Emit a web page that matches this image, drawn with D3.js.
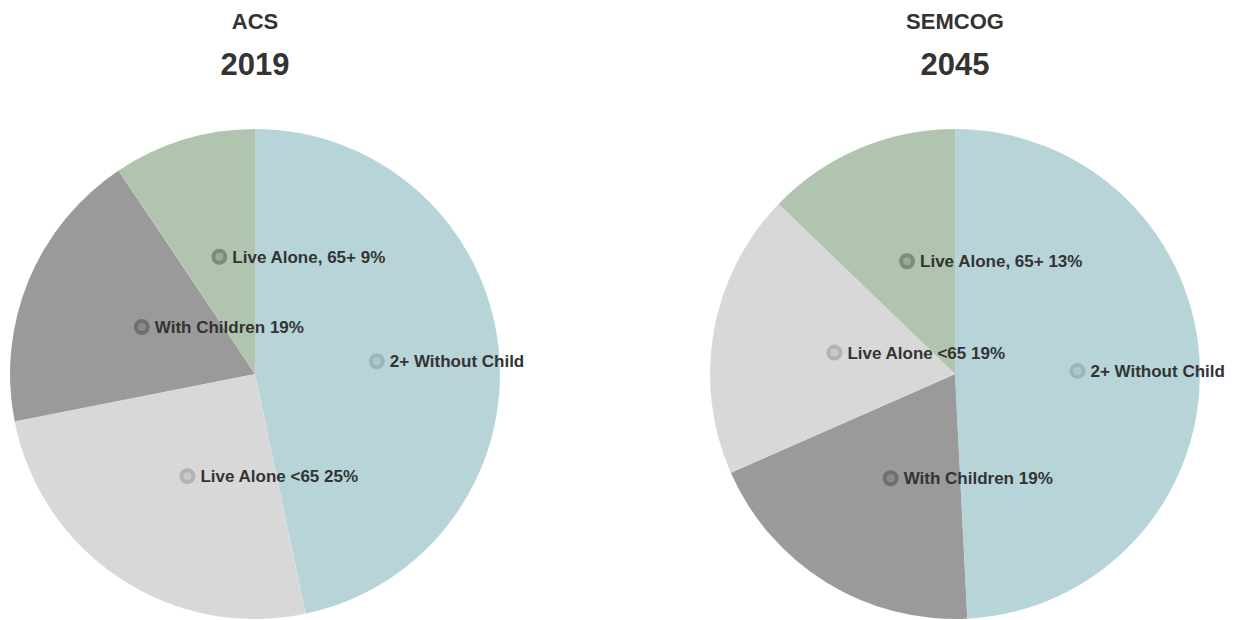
<!DOCTYPE html>
<html>
<head>
<meta charset="utf-8">
<script src="https://cdn.jsdelivr.net/npm/d3@7"></script>
<style>
  body { margin: 0; background: #fff; }
  svg text { font-family: "Liberation Sans", Arial, sans-serif; }
</style>
</head>
<body>
<div id="chart"></div>
<script>
// data
var titles = ["ACS", "SEMCOG"];
var years = ["2019", "2045"];
var acsNames = ["2+ Without Child", "Live Alone <65", "With Children", "Live Alone, 65+"];
var acsValues = [46.7, 25.2, 18.7, 9.4];
var acsLabels = ["2+ Without Child", "Live Alone <65 25%", "With Children 19%", "Live Alone, 65+ 9%"];
var semNames = ["2+ Without Child", "With Children", "Live Alone <65", "Live Alone, 65+"];
var semValues = [49.2, 19.2, 18.8, 12.8];
var semLabels = ["2+ Without Child", "With Children 19%", "Live Alone <65 19%", "Live Alone, 65+ 13%"];

var fill = {
    "2+ Without Child": "#b7d4d9",
    "Live Alone <65": "#d8d8d8",
    "With Children": "#9a9a9a",
    "Live Alone, 65+": "#b1c4b0"
};
var ring = {
    "2+ Without Child": "#9bb6ba",
    "Live Alone <65": "#b3b3b3",
    "With Children": "#6f6f6f",
    "Live Alone, 65+": "#7c8c7b"
};
var dot = {
    "2+ Without Child": "#adc7cb",
    "Live Alone <65": "#c9c9c9",
    "With Children": "#8a8a8a",
    "Live Alone, 65+": "#9aab99"
};

var width = 1236, height = 620, radius = 245;

var svg = d3.select("#chart")
    .append("svg")
    .attr("width", width)
    .attr("height", height);

var pies = [
    { names: acsNames, values: acsValues, labels: acsLabels, cx: 255 },
    { names: semNames, values: semValues, labels: semLabels, cx: 955 }
];

var pie = d3.pie().sort(null).value(function (d) { return d.value; });
var arc = d3.arc().innerRadius(0).outerRadius(radius);

pies.forEach(function (p, i) {
    var rows = p.names.map(function (n, j) {
        return { name: n, value: p.values[j], label: p.labels[j] };
    });

    // titles
    svg.append("text")
        .attr("x", p.cx)
        .attr("y", 29)
        .attr("text-anchor", "middle")
        .style("font-size", "22px")
        .style("font-weight", "bold")
        .style("fill", "#333")
        .text(titles[i]);
    svg.append("text")
        .attr("x", p.cx)
        .attr("y", 75)
        .attr("text-anchor", "middle")
        .style("font-size", "31px")
        .style("font-weight", "bold")
        .style("fill", "#333")
        .text(years[i]);

    var g = svg.append("g")
        .attr("transform", "translate(" + p.cx + ",374)");

    var arcs = pie(rows);

    g.selectAll("path")
        .data(arcs)
        .enter()
        .append("path")
        .attr("d", arc)
        .style("fill", function (d) { return fill[d.data.name]; })
        .style("stroke", "#fff")
        .style("stroke-opacity", 0.15)
        .style("stroke-width", 0.5);

    // labels with ring markers at the centroids
    var lab = g.selectAll(".lab")
        .data(arcs)
        .enter()
        .append("g")
        .attr("class", "lab")
        .attr("transform", function (d) {
            var c = arc.centroid(d);
            return "translate(" + c[0] + "," + c[1] + ")";
        });
    lab.append("circle")
        .attr("r", 6)
        .style("fill", function (d) { return dot[d.data.name]; })
        .style("stroke", function (d) { return ring[d.data.name]; })
        .style("stroke-width", 4);
    lab.append("text")
        .attr("x", 13)
        .attr("dy", "0.35em")
        .style("font-size", "17px")
        .style("font-weight", "bold")
        .style("fill", "#333")
        .text(function (d) { return d.data.label; });
});
</script>
</body>
</html>
